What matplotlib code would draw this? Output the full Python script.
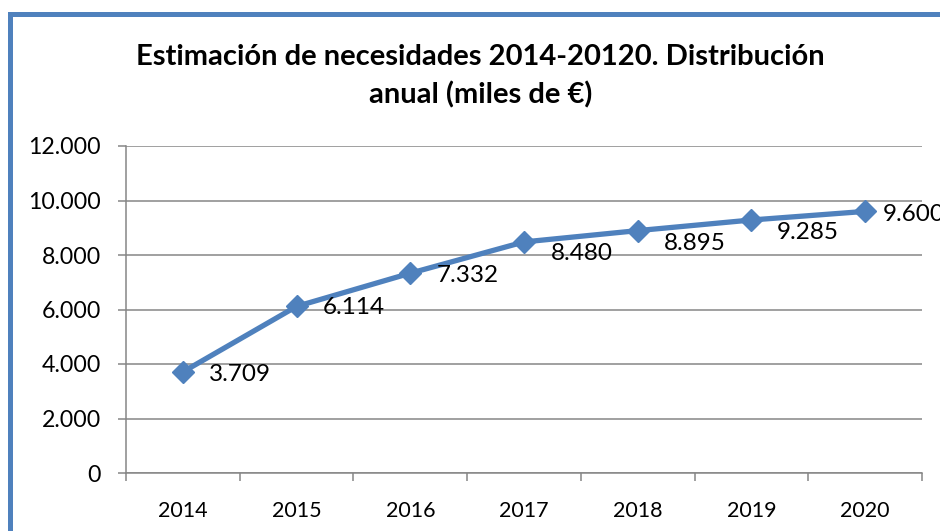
import matplotlib
matplotlib.use("Agg")
import matplotlib.pyplot as plt
from matplotlib.patches import Rectangle
from matplotlib.ticker import FuncFormatter

# Data
years = ["2014", "2015", "2016", "2017", "2018", "2019", "2020"]
values = [3709, 6114, 7332, 8480, 8895, 9285, 9600]
title = ("Estimación de necesidades 2014-20120. Distribución\n"
         "anual (miles de €)")

# Label offsets (points) as placed in the original chart
label_dx = [19, 19, 19, 19, 19, 18, 13]
label_dy = [-2, -1, -2, -8, -9, -9, -2]

blue = "#4F81BD"
grey = "#868686"

plt.rcParams["font.family"] = ["Lato", "DejaVu Sans"]


def thousands(v, pos=None):
    return "{:,.0f}".format(v).replace(",", ".")


fig = plt.figure(figsize=(9.4, 5.31), dpi=100)
ax = fig.add_axes([126 / 940, 58 / 531, 796 / 940, 327 / 531])

x = list(range(len(years)))
ax.plot(x, values, color=blue, lw=3.8, marker="D", ms=11,
        markerfacecolor=blue, markeredgecolor=blue, zorder=3,
        clip_on=False)

# Data labels to the right of each point
for xi, v, dx, dy in zip(x, values, label_dx, label_dy):
    ax.annotate(thousands(v), (xi, v), xytext=(dx, dy),
                textcoords="offset points", ha="left", va="center",
                fontsize=17.5, color="black", annotation_clip=False)

ax.set_xlim(-0.5, len(years) - 0.5)
ax.set_ylim(0, 12000)
ax.set_yticks(range(0, 12001, 2000))
ax.yaxis.set_major_formatter(FuncFormatter(thousands))
ax.set_xticks(x)
ax.set_xticklabels(years)
ax.set_xticks([i - 0.5 for i in range(len(years) + 1)], minor=True)

ax.grid(axis="y", color=grey, lw=1.1)
ax.set_axisbelow(True)
for s in ["top", "right"]:
    ax.spines[s].set_visible(False)
for s in ["left", "bottom"]:
    ax.spines[s].set_color(grey)
    ax.spines[s].set_linewidth(1.1)

ax.tick_params(axis="y", length=6, width=1.1, color=grey,
               labelsize=16.7, pad=12)
ax.tick_params(axis="x", which="major", length=0, labelsize=15.5, pad=20)
ax.tick_params(axis="x", which="minor", length=6, width=1.1, color=grey)

fig.text(0.511, 0.856, title, ha="center", va="center", fontsize=21,
         fontweight="bold", linespacing=1.5)

# Outer chart frame
fig.patches.append(Rectangle((9.5 / 940, -0.5), 2, 0.9727 + 0.5,
                             transform=fig.transFigure, fill=False,
                             edgecolor=blue, lw=3.6, clip_on=False))

fig.savefig("out.png", dpi=100)
plt.close(fig)
